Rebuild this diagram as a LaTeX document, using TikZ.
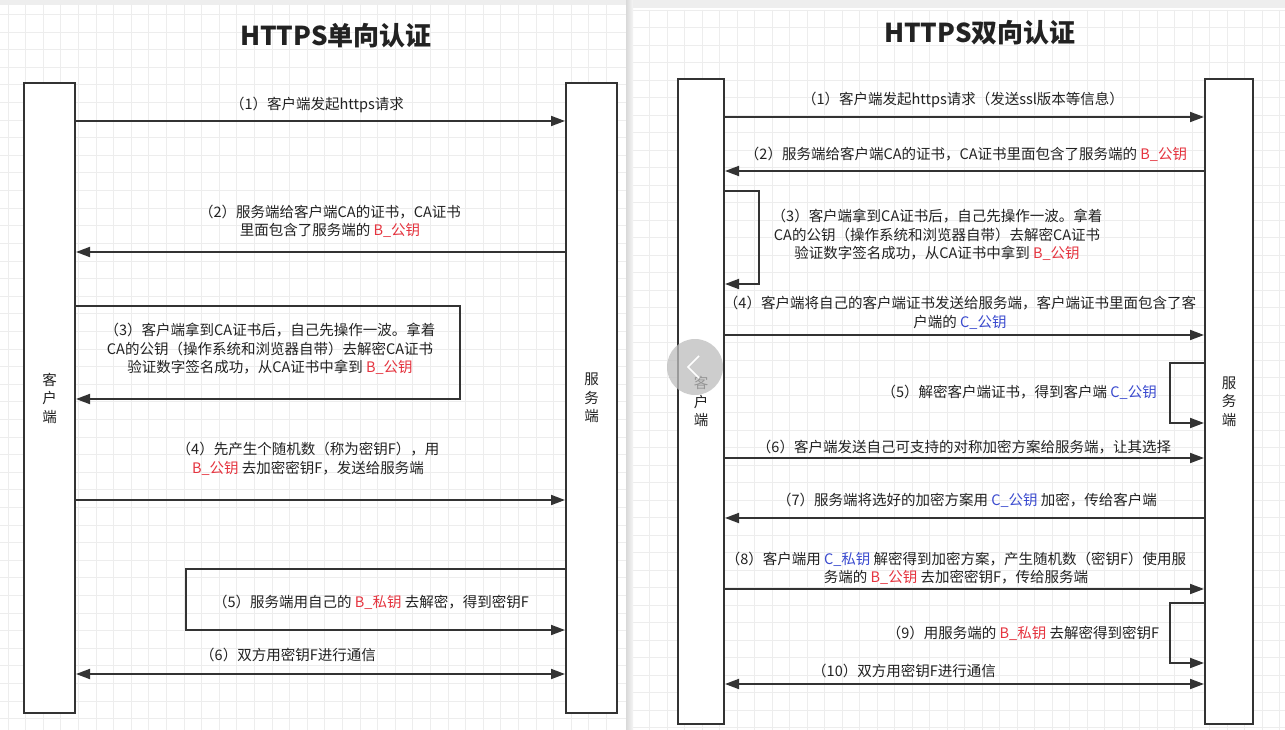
\documentclass[tikz,border=0pt]{standalone}
\usepackage{fontspec}
\setmainfont{Noto Sans CJK SC}
\usetikzlibrary{arrows.meta, positioning}
\definecolor{Ink}{HTML}{333333}
\definecolor{TextInk}{HTML}{222222}
\definecolor{KeyRed}{HTML}{E5343F}
\definecolor{KeyBlue}{HTML}{3B4BCF}
\definecolor{GridLine}{HTML}{EDEDED}
\definecolor{Strip}{HTML}{EEEEEE}
\definecolor{Knob}{HTML}{BDBDBD}
\newcommand{\redkey}[1]{\textcolor{KeyRed}{#1}}
\newcommand{\bluekey}[1]{\textcolor{KeyBlue}{#1}}
\tikzset{
    lifeline/.style={rectangle, draw=Ink, fill=white, line width=2pt, inner sep=0pt, text=TextInk, align=center, font=\fontsize{14.5}{18.5}\selectfont},
    msg/.style={-{Triangle[length=14pt, width=10pt]}, line width=1.8pt, draw=Ink},
    twoway/.style={{Triangle[length=14pt, width=10pt]}-{Triangle[length=14pt, width=10pt]}, line width=1.8pt, draw=Ink},
    lbl/.style={inner sep=0pt, align=center, text=TextInk, font=\fontsize{14.5}{18.5}\selectfont},
    headline/.style={inner sep=0pt, text=TextInk, font=\bfseries\fontsize{26}{30}\selectfont},
    gridline/.style={draw=GridLine, line width=0.8pt},
}
\begin{document}
\begin{tikzpicture}[x=1pt, y=-1pt]
\useasboundingbox (0,0) rectangle (1285,730);

% panels
\fill[white] (0,0) rectangle (1285,730);
\fill[Strip] (0,0) rectangle (626,5);
\fill[Strip] (633,0) rectangle (1285,8);
\foreach \gx in {8,25.6,...,620} \draw[gridline] (\gx,5) -- (\gx,730);
\foreach \gy in {14.5,32.1,...,730} \draw[gridline] (0,\gy) -- (626,\gy);
\foreach \gx in {649.5,667,...,1285} \draw[gridline] (\gx,10) -- (\gx,730);
\foreach \gy in {10,27.5,...,730} \draw[gridline] (633,\gy) -- (1285,\gy);
\shade[left color=gray!30, right color=gray!8] (626,0) rectangle (633,730);

% ---------- one-way ----------
\node[headline] (headA) at (336,36) {HTTPS单向认证};
\node[lifeline, minimum width=51pt, minimum height=630pt] (cliA) at (49.5,398) {客\\户\\端};
\node[lifeline, minimum width=51pt, minimum height=630pt] (srvA) at (591.5,398) {服\\务\\端};

\coordinate (a1) at (0,121);
\coordinate (a2) at (0,252);
\coordinate (a3) at (460,306);
\coordinate (b3) at (460,399);
\coordinate (a4) at (0,500);
\coordinate (a5) at (186,569);
\coordinate (b5) at (186,630);
\coordinate (a6) at (0,674);

\draw[msg] (cliA.east |- a1) -- (srvA.west |- a1);
\draw[msg] (srvA.west |- a2) -- (cliA.east |- a2);
\draw[msg] (cliA.east |- a3) -- (a3) -- (b3) -- (cliA.east |- b3);
\draw[msg] (cliA.east |- a4) -- (srvA.west |- a4);
\draw[msg] (srvA.west |- a5) -- (a5) -- (b5) -- (srvA.west |- b5);
\draw[twoway] (cliA.east |- a6) -- (srvA.west |- a6);

\node[lbl] (m1) at (317,105) {（1）客户端发起https请求};
\node[lbl] (m2) at (330,221.5) {（2）服务端给客户端CA的证书，CA证书\\里面包含了服务端的 \redkey{B\_公钥}};
\node[lbl] (m3) at (270,349) {（3）客户端拿到CA证书后，自己先操作一波。拿着\\CA的公钥（操作系统和浏览器自带）去解密CA证书\\验证数字签名成功，从CA证书中拿到 \redkey{B\_公钥}};
\node[lbl] (m4) at (308,459) {（4）先产生个随机数（称为密钥F），用\\\redkey{B\_公钥} 去加密密钥F，发送给服务端};
\node[lbl] (m5) at (371,602) {（5）服务端用自己的 \redkey{B\_私钥} 去解密，得到密钥F};
\node[lbl, anchor=west] (m6) at (200,655) {（6）双方用密钥F进行通信};

% ---------- two-way ----------
\node[headline] (headB) at (980,33) {HTTPS双向认证};
\node[lifeline, minimum width=46pt, minimum height=645pt] (cliB) at (701,401.5) {客\\户\\端};
\node[lifeline, minimum width=48pt, minimum height=645pt] (srvB) at (1229,401.5) {服\\务\\端};

\coordinate (c1) at (0,117);
\coordinate (c2) at (0,171);
\coordinate (c3) at (759,191);
\coordinate (d3) at (759,284);
\coordinate (c4) at (0,335);
\coordinate (c5) at (1170,363);
\coordinate (d5) at (1170,423);
\coordinate (c6) at (0,458);
\coordinate (c7) at (0,518);
\coordinate (c8) at (0,589);
\coordinate (c9) at (1170,603);
\coordinate (d9) at (1170,663);
\coordinate (c10) at (0,684);

\draw[msg] (cliB.east |- c1) -- (srvB.west |- c1);
\draw[msg] (srvB.west |- c2) -- (cliB.east |- c2);
\draw[msg] (cliB.east |- c3) -- (c3) -- (d3) -- (cliB.east |- d3);
\draw[msg] (cliB.east |- c4) -- (srvB.west |- c4);
\draw[msg] (srvB.west |- c5) -- (c5) -- (d5) -- (srvB.west |- d5);
\draw[msg] (cliB.east |- c6) -- (srvB.west |- c6);
\draw[msg] (srvB.west |- c7) -- (cliB.east |- c7);
\draw[msg] (cliB.east |- c8) -- (srvB.west |- c8);
\draw[msg] (srvB.west |- c9) -- (c9) -- (d9) -- (srvB.west |- d9);
\draw[twoway] (cliB.east |- c10) -- (srvB.west |- c10);

\node[lbl] (n1) at (963,100) {（1）客户端发起https请求（发送ssl版本等信息）};
\node[lbl] (n2) at (966,154) {（2）服务端给客户端CA的证书，CA证书里面包含了服务端的 \redkey{B\_公钥}};
\node[lbl] (n3) at (937,235) {（3）客户端拿到CA证书后，自己先操作一波。拿着\\CA的公钥（操作系统和浏览器自带）去解密CA证书\\验证数字签名成功，从CA证书中拿到 \redkey{B\_公钥}};
\node[lbl] (n4) at (960,313) {（4）客户端将自己的客户端证书发送给服务端，客户端证书里面包含了客\\户端的 \bluekey{C\_公钥}};
\node[lbl, anchor=east] (n5) at (1157,392) {（5）解密客户端证书，得到客户端 \bluekey{C\_公钥}};
\node[lbl] (n6) at (964,447) {（6）客户端发送自己可支持的对称加密方案给服务端，让其选择};
\node[lbl] (n7) at (967,500) {（7）服务端将选好的加密方案用 \bluekey{C\_公钥} 加密，传给客户端};
\node[lbl] (n8) at (956,568.5) {（8）客户端用 \bluekey{C\_私钥} 解密得到加密方案，产生随机数（密钥F）使用服\\务端的 \redkey{B\_公钥} 去加密密钥F，传给服务端};
\node[lbl] (n9) at (1023,633) {（9）用服务端的 \redkey{B\_私钥} 去解密得到密钥F};
\node[lbl, anchor=west] (n10) at (812,671) {（10）双方用密钥F进行通信};

% viewer overlay
\node[circle, fill=Knob, opacity=0.75, minimum size=56pt, inner sep=0pt] (knob) at (695,367) {};
\draw[white, line width=1.6pt] (699,356) -- (688,367) -- (699,378);
\end{tikzpicture}
\end{document}
